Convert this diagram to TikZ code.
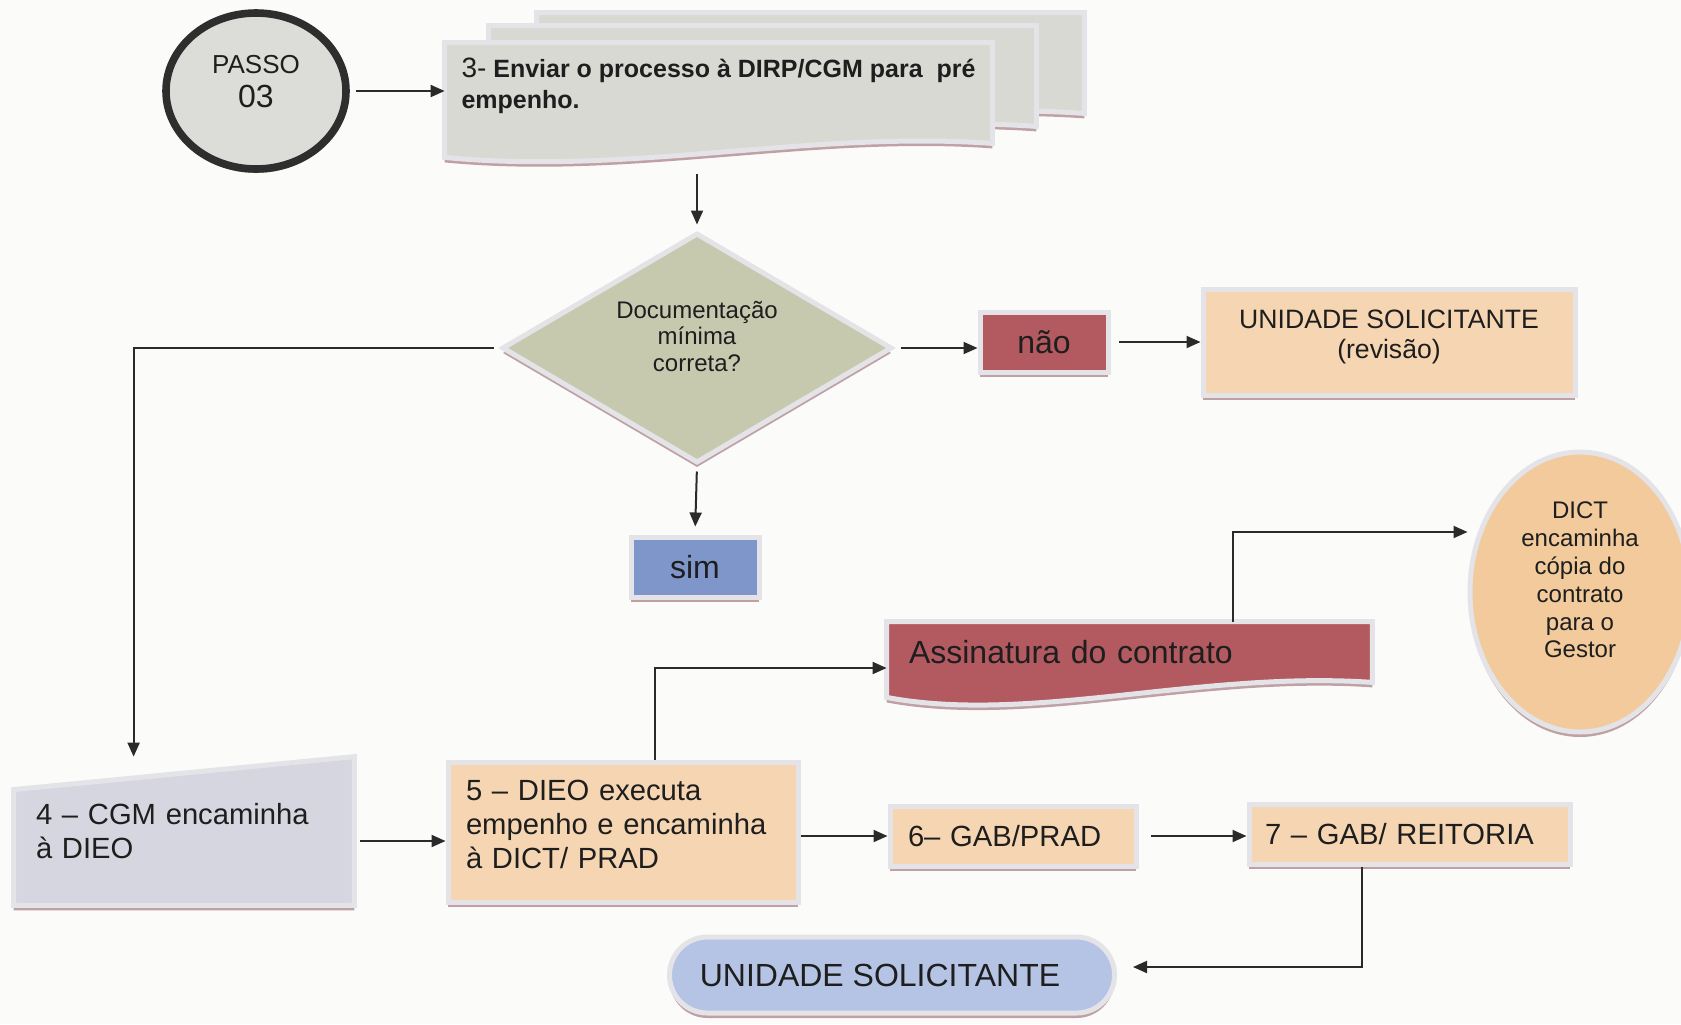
\documentclass[tikz,border=0pt]{standalone}
\usepackage{fontspec}
\setmainfont{Liberation Sans}
\usepackage{tikz}
\usetikzlibrary{shapes.geometric,shapes.misc,arrows.meta,shadows,calc,backgrounds}

\definecolor{paper}{HTML}{FBFBFA}
\definecolor{ink}{HTML}{1E1E1E}
\definecolor{linegray}{HTML}{2A2A2A}
\definecolor{ringgray}{HTML}{2E2E2E}
\definecolor{circlefill}{HTML}{DCDCD8}
\definecolor{docgray}{HTML}{D9D9D3}
\definecolor{framegray}{HTML}{E3E3E8}
\definecolor{shadowpink}{HTML}{BFA0A5}
\definecolor{olive}{HTML}{C7C9AF}
\definecolor{rose}{HTML}{B35A61}
\definecolor{peach}{HTML}{F6D6B2}
\definecolor{simblue}{HTML}{7E96CA}
\definecolor{lavender}{HTML}{D6D6E0}
\definecolor{fimblue}{HTML}{B5C3E4}
\definecolor{dictpeach}{HTML}{F2CA9C}

\begin{document}
\begin{tikzpicture}[x=0.5pt,y=-0.5pt,text=ink,
	flow/.style={draw=linegray,line width=1pt,-{Triangle[length=7pt,width=6pt]}},
	bevel/.style={draw=framegray,line width=2.5pt,drop shadow={shadow xshift=0pt,shadow yshift=-2.5pt,fill=shadowpink,opacity=1}},
	box/.style={bevel,rectangle,fill=peach,inner sep=0pt,align=left,font=\fontsize{14.6}{17}\selectfont},
	tag/.style={bevel,rectangle,inner sep=0pt,minimum width=64pt,minimum height=30pt,font=\fontsize{16}{16}\selectfont},
	docshape/.style={bevel,fill=docgray},
	passostyle/.style={ellipse,draw=ringgray,line width=3.8pt,fill=circlefill,minimum width=90pt,minimum height=78pt,inner sep=0pt,align=center,font=\fontsize{13}{17}\selectfont,drop shadow={shadow xshift=0pt,shadow yshift=-2pt,fill=shadowpink,opacity=1}},
	]
	\useasboundingbox (0,0) rectangle (1681,1024);

	\node[passostyle,text depth=10pt] (passo) at (256,91) {PASSO\\{\fontsize{16}{16}\selectfont 03}};
	\node[rectangle,minimum width=273.5pt,minimum height=42.5pt,inner sep=0pt,align=left,font=\fontsize{12.5}{15.5}\selectfont] (envio) at (718.5,85.5)
		{{\fontsize{14}{15.5}\selectfont 3-} \textbf{Enviar o processo à DIRP/CGM para\ \ pré}\\\textbf{empenho.}};
	\coordinate (envioout) at (697,174);
	\node[diamond,bevel,fill=olive,shape aspect=1.7,minimum width=195pt,minimum height=115pt,inner sep=0pt,align=center,text depth=12pt,font=\fontsize{12}{13.25}\selectfont] (docmin) at (697,348)
		{Documentação\\mínima\\correta?};
	\node[tag,fill=rose] (nao) at (1044,342) {não};
	\node[box,align=center,minimum width=186pt,minimum height=53pt,text depth=8pt,font=\fontsize{13.3}{15}\selectfont] (rev) at (1389,342) {UNIDADE SOLICITANTE\\(revisão)};
	\node[tag,fill=simblue] (sim) at (695,567) {sim};

	\node[rectangle,minimum width=170pt,minimum height=74pt,text width=148pt,inner xsep=11pt,inner ysep=0pt,align=left,font=\fontsize{14.6}{17}\selectfont] (cgm) at (184,831)
		{4 – CGM encaminha\\à DIEO};
	\node[box,minimum width=175pt,minimum height=70pt,text width=157pt,inner xsep=9pt,text depth=42pt] (dieo) at (623,832)
		{5 – DIEO executa\\empenho e encaminha\\à DICT/ PRAD};
	\node[box,minimum width=123pt,minimum height=30pt,text width=105pt,inner xsep=9pt] (gab) at (1013,836) {6– GAB/PRAD};
	\node[box,minimum width=160.5pt,minimum height=30pt,text width=144.5pt,inner xsep=8pt] (reit) at (1409.5,834) {7 – GAB/ REITORIA};
	\node[rectangle,minimum width=242.5pt,minimum height=30pt,text width=220.5pt,inner xsep=11pt,inner ysep=0pt,align=left,font=\fontsize{16}{18}\selectfont] (assin) at (1129.5,652)
		{Assinatura do contrato};
	\node[ellipse,bevel,fill=dictpeach,minimum width=110pt,minimum height=140pt,inner sep=0pt,align=center,text depth=12pt,font=\fontsize{12}{13.9}\selectfont] (dict) at (1580,592)
		{DICT\\encaminha\\cópia do\\contrato\\para o\\Gestor};
	\node[rounded rectangle,bevel,fill=fimblue,minimum width=222.5pt,minimum height=38pt,inner sep=0pt,font=\fontsize{16}{16}\selectfont] (fim) at (892,975)
		{UNIDADE SOLICITANTE\hspace*{12pt}};

	\begin{scope}[on background layer]
		\fill[paper] (0,0) rectangle (1681,1024);
		\foreach \dx/\dy in {92/-30,44/-17,0/0}
			\path[docshape] ($(envio.north west)+(\dx,\dy)$) -- ($(envio.north east)+(\dx,\dy)$) -- ($(envio.south east)+(\dx,\dy+15)$)
				.. controls ($(envio.south east)+(\dx-182,\dy+2)$) and ($(envio.south west)+(\dx+185,\dy+47)$) .. ($(envio.south west)+(\dx,\dy+29)$) -- cycle;
		\path[bevel,fill=lavender] (cgm.south west) -- ($(cgm.north west)+(0,33)$) -- (cgm.north east) -- (cgm.south east) -- cycle;
		\path[bevel,fill=rose] (assin.north west) -- (assin.north east) -- (assin.south east)
			.. controls ($(assin.south east)+(-172,-12)$) and ($(assin.south west)+(143,42)$) .. ($(assin.south west)+(0,15)$) -- cycle;
	\end{scope}

	\draw[flow,shorten <=3pt] (passo.east) -- (passo.east -| envio.west);
	\draw[flow,shorten >=3pt] (envioout) -- (docmin.north);
	\draw[flow,shorten <=3pt] (docmin.east) -- (docmin.east -| nao.west);
	\draw[flow,shorten <=4pt] (nao.east) -- (nao.east -| rev.west);
	\draw[flow,shorten <=3pt] (docmin.west) -| ($(cgm.north west)+(120,0)$);
	\draw[flow,shorten <=3pt,shorten >=4pt] (docmin.south) -- (sim.north);
	\draw[flow,shorten <=3pt] ([yshift=-5pt]cgm.east) -- ([yshift=-5pt]cgm.east -| dieo.west);
	\draw[flow] ($(dieo.north west)!0.59!(dieo.north east)$) |- ([yshift=-8pt]assin.west);
	\draw[flow] ($(assin.north west)!0.713!(assin.north east)$) |- ([yshift=30pt]dict.west);
	\draw[flow] (dieo.east |- gab.west) -- (gab.west);
	\draw[flow,shorten <=6pt] (gab.east) -- (gab.east -| reit.west);
	\draw[flow,shorten >=8pt] ($(reit.south west)!0.355!(reit.south east)$) |- ([yshift=4pt]fim.east);
\end{tikzpicture}
\end{document}
